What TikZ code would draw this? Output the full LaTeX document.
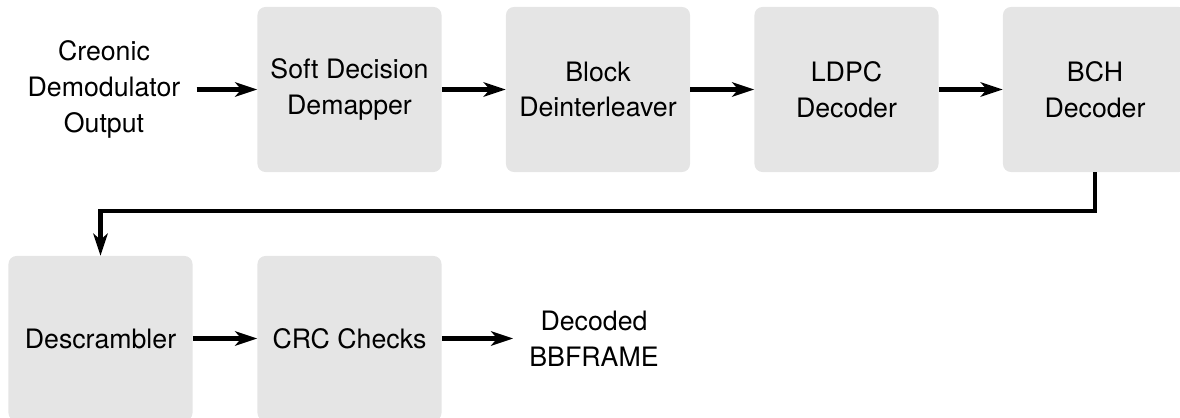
\documentclass[tikz,border=0pt]{standalone}
\usepackage{fontspec}
\setmainfont{TeX Gyre Heros}
\usetikzlibrary{arrows.meta}

\begin{document}
\begin{tikzpicture}[x=0.025cm,y=-0.025cm,
    font=\fontsize{19}{25.5}\selectfont,
    block/.style={fill=black!10,rounded corners=0.2cm,
      minimum width=4.6cm,minimum height=4.125cm,align=center},
    txt/.style={align=center,inner sep=0.4cm},
    flow/.style={line width=3pt,-{Stealth[length=0.55cm,width=0.36cm,inset=0.15cm]}}]
    \useasboundingbox (0,0) rectangle (1180,418);
    % first row
    \node[txt] (input) at (104,89.5) {Creonic\\Demodulator\\Output};
    \node[block] (demap) at (349.5,89.5) {Soft Decision\\Demapper};
    \node[block] (deint) at (598,89.5) {Block\\Deinterleaver};
    \node[block] (ldpc) at (846.5,89.5) {LDPC\\Decoder};
    \node[block] (bch) at (1095,89.5) {BCH\\Decoder};
    % second row
    \node[block] (descr) at (100.5,338.5) {Descrambler};
    \node[block] (crc) at (349.5,338.5) {CRC Checks};
    \node[txt] (output) at (594,338.5) {Decoded\\BBFRAME};
    \draw[flow] (input) -- (demap);
    \draw[flow] (demap) -- (deint);
    \draw[flow] (deint) -- (ldpc);
    \draw[flow] (ldpc) -- (bch);
    \draw[flow] (bch.south) -- ++(0,39) -| (descr.north);
    \draw[flow] (descr) -- (crc);
    \draw[flow] (crc) -- (output);
\end{tikzpicture}
\end{document}
